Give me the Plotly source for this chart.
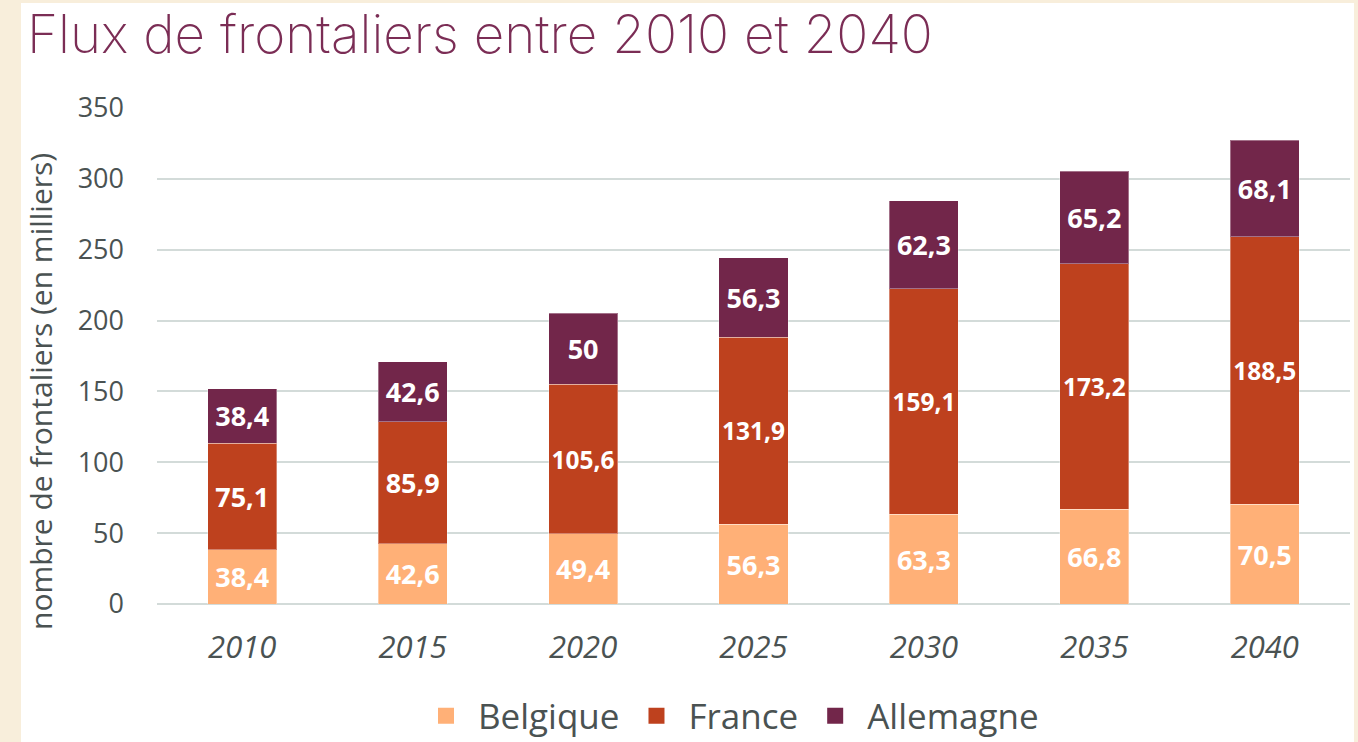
import plotly.graph_objects as go

years = ["2010", "2015", "2020", "2025", "2030", "2035", "2040"]
belgique = [38.4, 42.6, 49.4, 56.3, 63.3, 66.8, 70.5]
france = [75.1, 85.9, 105.6, 131.9, 159.1, 173.2, 188.5]
allemagne = [38.4, 42.6, 50, 56.3, 62.3, 65.2, 68.1]
y_ticks = [0, 50, 100, 150, 200, 250, 300, 350]

colors = {"Belgique": "#FFB077", "France": "#BE411E", "Allemagne": "#72264A"}


def fmt(v):
    return ("%g" % v).replace(".", ",")


fig = go.Figure()
for name, vals in [("Belgique", belgique), ("France", france), ("Allemagne", allemagne)]:
    fig.add_trace(go.Bar(
        x=years, y=vals, name=name, legendgroup=name, showlegend=False,
        marker=dict(color=colors[name], line=dict(width=1, color="rgba(255,255,255,0.35)")),
        text=[fmt(v) for v in vals],
        textposition="inside", insidetextanchor="middle",
        textfont=dict(family="Open Sans", size=27, color="white", weight="bold"),
        textangle=0,
        hoverinfo="skip",
    ))
# legend entries with larger square swatches
for name in ["Belgique", "France", "Allemagne"]:
    fig.add_trace(go.Scatter(
        x=[None], y=[None], mode="markers", name=name, legendgroup=name,
        marker=dict(symbol="square", size=26, color=colors[name]),
        hoverinfo="skip",
    ))

W, H = 1358, 742
L, R, T, B = 157, 8, 108, 138
pw = W - L - R
ph = H - T - B


def px_x(px):
    return (px - L) / pw


def px_y(py):
    return (H - B - py) / ph


fig.update_layout(
    width=W, height=H,
    barmode="stack",
    bargap=0.595,
    paper_bgcolor="#F8EEDB",
    plot_bgcolor="rgba(0,0,0,0)",
    margin=dict(l=L, r=R, t=T, b=B, pad=0, autoexpand=False),
    showlegend=True,
    legend=dict(
        orientation="h", xref="container", yref="container",
        x=729 / W, xanchor="center", y=1 - 716 / H, yanchor="middle",
        font=dict(family="Open Sans", size=35, color="#4A5252"),
        traceorder="normal", itemwidth=54, bgcolor="rgba(0,0,0,0)",
    ),
    font=dict(family="Open Sans", color="#4A5252"),
    xaxis=dict(
        tickfont=dict(family="Open Sans", size=31, color="#4A5252", style="italic"),
        ticks="", showgrid=False, ticklabelstandoff=22,
        showline=False, zeroline=False, automargin=False,
    ),
    yaxis=dict(
        range=[0, 350], tickvals=y_ticks,
        tickfont=dict(family="Open Sans", size=27, color="#4A5252"),
        ticks="", ticklabelstandoff=32,
        showgrid=True, gridcolor="#D3DBD9", gridwidth=2,
        zeroline=True, zerolinecolor="#D3DBD9", zerolinewidth=2,
        showline=False, automargin=False,
    ),
    shapes=[dict(
        type="rect", xref="paper", yref="paper",
        x0=px_x(21), x1=px_x(1354), y0=px_y(745), y1=px_y(3),
        fillcolor="white", line=dict(width=0), layer="below",
    )],
    annotations=[
        dict(
            text="Flux de frontaliers entre 2010 et 2040",
            xref="paper", yref="paper", x=px_x(25), y=px_y(34),
            xanchor="left", yanchor="middle", showarrow=False,
            font=dict(family="Inter", size=53, color="#7B2D55", weight=200),
        ),
        dict(
            text="nombre de frontaliers (en milliers)",
            xref="paper", yref="paper", x=px_x(41), y=px_y(392),
            xanchor="center", yanchor="middle", showarrow=False, textangle=-90,
            font=dict(family="Open Sans", size=30, color="#4A5252"),
        ),
    ],
)

fig.write_html("out.html")
